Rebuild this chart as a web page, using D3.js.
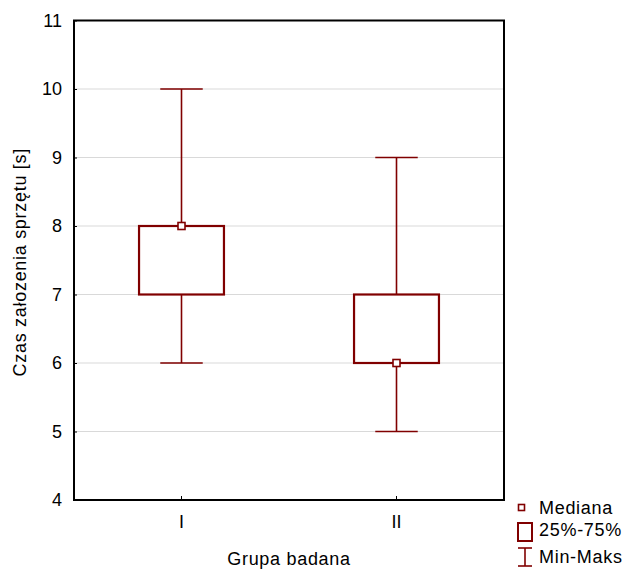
<!DOCTYPE html>
<html>
<head>
<meta charset="utf-8">
<script src="https://cdn.jsdelivr.net/npm/d3@7"></script>
<style>
  body { margin: 0; background: #fff; }
  svg { display: block; font-family: "Liberation Sans", Arial, sans-serif; }
</style>
</head>
<body>
<svg id="chart" width="629" height="569"></svg>
<script>
// Box-plot summary per group
const groups = ["I", "II"];
const minVals = [6, 5];
const q1Vals = [7, 6];
const medianVals = [8, 6];
const q3Vals = [8, 7];
const maxVals = [10, 9];
const yTicks = [4, 5, 6, 7, 8, 9, 10, 11];

const rows = groups.map((g, i) => ({
  group: g, min: minVals[i], q1: q1Vals[i], median: medianVals[i], q3: q3Vals[i], max: maxVals[i]
}));

const dark = "#800000";
const fontFamily = "Liberation Sans, Arial, sans-serif";
const plot = { left: 74, right: 504, top: 20.5, bottom: 500 };

const svg = d3.select("#chart");

const x = d3.scaleBand().domain(groups).range([plot.left, plot.right]).padding(0);
const y = d3.scaleLinear().domain([4, 11]).range([plot.bottom, plot.top]);

// horizontal grid
svg.append("g")
  .selectAll("line")
  .data(yTicks.filter(t => t > 4 && t < 11))
  .join("line")
  .attr("x1", plot.left).attr("x2", plot.right)
  .attr("y1", d => y(d)).attr("y2", d => y(d))
  .attr("stroke", "#d9d9d9").attr("stroke-width", 1);

// y axis labels and ticks
const yAxis = d3.axisLeft(y).tickValues(yTicks).tickFormat(d3.format("d")).tickSize(3);
const gy = svg.append("g").attr("transform", `translate(${plot.left},0)`).call(yAxis);
gy.attr("font-family", null).attr("font-size", null);
gy.select(".domain").remove();
gy.selectAll(".tick line").attr("x2", 3).attr("x1", -1).attr("stroke", "#000");
gy.selectAll(".tick text").attr("font-size", 18).attr("fill", "#000")
  .attr("font-family", fontFamily).attr("x", -12);

// x axis labels and ticks
const xAxis = d3.axisBottom(x).tickSize(0).tickPadding(15);
const gx = svg.append("g").attr("transform", `translate(0,${plot.bottom})`).call(xAxis);
gx.attr("font-family", null).attr("font-size", null);
gx.select(".domain").remove();
gx.selectAll(".tick line").attr("y1", 0).attr("y2", -4).attr("stroke", "#000");
gx.selectAll(".tick text").attr("font-size", 18).attr("fill", "#000")
  .attr("font-family", fontFamily);

const bw = x.bandwidth();
const boxW = bw * 0.395;
const capW = boxW / 2;

const boxes = svg.append("g").selectAll("g").data(rows).join("g")
  .attr("transform", d => `translate(${x(d.group) + bw / 2},0)`);

// whiskers
boxes.append("line")
  .attr("x1", 0).attr("x2", 0)
  .attr("y1", d => y(d.max)).attr("y2", d => y(d.q3))
  .attr("stroke", dark).attr("stroke-width", 1.6);
boxes.append("line")
  .attr("x1", 0).attr("x2", 0)
  .attr("y1", d => y(d.q1)).attr("y2", d => y(d.min))
  .attr("stroke", dark).attr("stroke-width", 1.6);
boxes.append("line")
  .attr("x1", -capW / 2).attr("x2", capW / 2)
  .attr("y1", d => y(d.max)).attr("y2", d => y(d.max))
  .attr("stroke", dark).attr("stroke-width", 1.6);
boxes.append("line")
  .attr("x1", -capW / 2).attr("x2", capW / 2)
  .attr("y1", d => y(d.min)).attr("y2", d => y(d.min))
  .attr("stroke", dark).attr("stroke-width", 1.6);

// interquartile box
boxes.append("rect")
  .attr("x", -boxW / 2).attr("width", boxW)
  .attr("y", d => y(d.q3)).attr("height", d => y(d.q1) - y(d.q3))
  .attr("fill", "#fff").attr("stroke", dark).attr("stroke-width", 2.2);

// median marker
boxes.append("rect")
  .attr("x", -3.5).attr("width", 7)
  .attr("y", d => y(d.median) - 3.5).attr("height", 7)
  .attr("fill", "#fff").attr("stroke", dark).attr("stroke-width", 1.6);

// frame
svg.append("rect")
  .attr("x", plot.left).attr("y", plot.top)
  .attr("width", plot.right - plot.left).attr("height", plot.bottom - plot.top)
  .attr("fill", "none").attr("stroke", "#000").attr("stroke-width", 2);

// axis titles
svg.append("text")
  .attr("x", (plot.left + plot.right) / 2).attr("y", 565)
  .attr("text-anchor", "middle").attr("font-size", 18).attr("letter-spacing", 0.7)
  .attr("fill", "#000")
  .text("Grupa badana");
svg.append("text")
  .attr("transform", `translate(26,${(plot.top + plot.bottom) / 2 + 2}) rotate(-90)`)
  .attr("text-anchor", "middle").attr("font-size", 18).attr("letter-spacing", 0.7)
  .attr("fill", "#000")
  .text("Czas załozenia sprzętu [s]");

// legend
const legend = svg.append("g").attr("font-size", 18).attr("letter-spacing", 0.7).attr("fill", "#000");
legend.append("rect").attr("x", 518.5).attr("y", 504.5).attr("width", 6).attr("height", 6)
  .attr("fill", "#fff").attr("stroke", dark).attr("stroke-width", 1.6);
legend.append("text").attr("x", 539).attr("y", 514).text("Mediana");
legend.append("rect").attr("x", 518).attr("y", 523).attr("width", 14).attr("height", 18)
  .attr("fill", "#fff").attr("stroke", dark).attr("stroke-width", 2);
legend.append("text").attr("x", 539).attr("y", 536).text("25%-75%");
legend.append("line").attr("x1", 518).attr("x2", 532).attr("y1", 548).attr("y2", 548)
  .attr("stroke", dark).attr("stroke-width", 1.6);
legend.append("line").attr("x1", 518).attr("x2", 532).attr("y1", 566).attr("y2", 566)
  .attr("stroke", dark).attr("stroke-width", 1.6);
legend.append("line").attr("x1", 525).attr("x2", 525).attr("y1", 548).attr("y2", 566)
  .attr("stroke", dark).attr("stroke-width", 1.6);
legend.append("text").attr("x", 539).attr("y", 563).text("Min-Maks");
</script>
</body>
</html>
